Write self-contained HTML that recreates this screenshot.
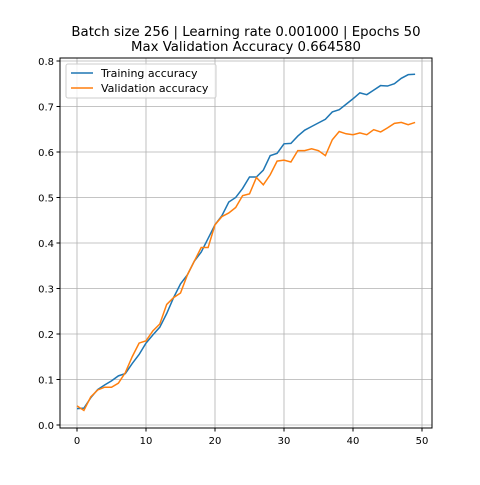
<!DOCTYPE html>
<html><head><meta charset="utf-8"><style>
body{margin:0;background:#fff;}
svg text{font-family:"DejaVu Sans","Liberation Sans",sans-serif;font-size:10px;fill:#000;}
</style></head><body>
<svg id="chart" width="480" height="480">
<rect width="480" height="480" fill="#fff"/>
<text x="246" y="36" text-anchor="middle" style="font-size:13.3px">Batch size 256 | Learning rate 0.001000 | Epochs 50</text>
<text x="246" y="51" text-anchor="middle" style="font-size:13.3px">Max Validation Accuracy 0.664580</text>
<g id="grid"></g><g id="series"></g>
<rect x="60" y="58" width="372" height="370" fill="none" stroke="#000" stroke-width="1"/>
<g id="axes"></g>
<g>
<rect x="66" y="64" width="150" height="34" fill="#fff" fill-opacity="0.8" stroke="#ccc" rx="2"/>
<line x1="71" y1="73" x2="93" y2="73" stroke="#1f77b4" stroke-width="1.5"/>
<text x="101" y="77" style="font-size:11px">Training accuracy</text>
<line x1="71" y1="88" x2="93" y2="88" stroke="#ff7f0e" stroke-width="1.5"/>
<text x="101" y="92" style="font-size:11px">Validation accuracy</text>
</g>
</svg>
<script>
const xTicks=[0,10,20,30,40,50];
const yTicks=[0.0,0.1,0.2,0.3,0.4,0.5,0.6,0.7,0.8];
const yTickLabels=["0.0","0.1","0.2","0.3","0.4","0.5","0.6","0.7","0.8"];
const trainAcc=[0.036,0.037,0.06,0.078,0.088,0.097,0.108,0.113,0.135,0.155,0.18,0.198,0.215,0.245,0.28,0.31,0.33,0.36,0.38,0.41,0.44,0.46,0.49,0.5,0.52,0.545,0.545,0.56,0.592,0.597,0.618,0.619,0.635,0.648,0.656,0.664,0.672,0.688,0.693,0.705,0.717,0.73,0.726,0.736,0.746,0.745,0.75,0.762,0.77,0.771];
const valAcc=[0.042,0.032,0.062,0.077,0.083,0.083,0.092,0.115,0.15,0.18,0.185,0.207,0.222,0.265,0.28,0.29,0.33,0.36,0.39,0.39,0.44,0.458,0.466,0.478,0.504,0.508,0.544,0.528,0.55,0.58,0.582,0.578,0.603,0.603,0.607,0.603,0.592,0.627,0.645,0.64,0.638,0.642,0.638,0.649,0.644,0.653,0.663,0.665,0.66,0.665];
const NS="http://www.w3.org/2000/svg";
const xs=v=>77+v*6.9, ys=v=>425-v*455;
function mk(tag,attrs,parent){const e=document.createElementNS(NS,tag);for(const k in attrs)e.setAttribute(k,attrs[k]);parent.appendChild(e);return e;}
const grid=document.getElementById('grid'),axes=document.getElementById('axes'),ser=document.getElementById('series');
xTicks.forEach(t=>{const x=xs(t);
 const g=mk('line',{x1:x,x2:x,y1:58,y2:428,stroke:'#b0b0b0','stroke-width':0.8},grid);
 
 
 mk('line',{x1:x,x2:x,y1:428,y2:431.5,stroke:'#000'},axes);
 const tx=mk('text',{x:x,y:444,'text-anchor':'middle'},axes);tx.textContent=t;
 
 
});
yTicks.forEach((t,i)=>{const y=ys(t);
 const g=mk('line',{x1:60,x2:432,y1:y,y2:y,stroke:'#b0b0b0','stroke-width':0.8},grid);
 
 
 mk('line',{x1:56.5,x2:60,y1:y,y2:y,stroke:'#000'},axes);
 const tx=mk('text',{x:54,y:y+4,'text-anchor':'end'},axes);tx.textContent=yTickLabels[i];
 
 
});
function line(arr,color,name){const p=mk('polyline',{points:arr.map((v,i)=>xs(i)+','+ys(v)).join(' '),fill:'none',stroke:color,'stroke-width':1.5},ser);
 
 }
line(trainAcc,'#1f77b4','training-accuracy-line');
line(valAcc,'#ff7f0e','validation-accuracy-line');
</script>
</body></html>
